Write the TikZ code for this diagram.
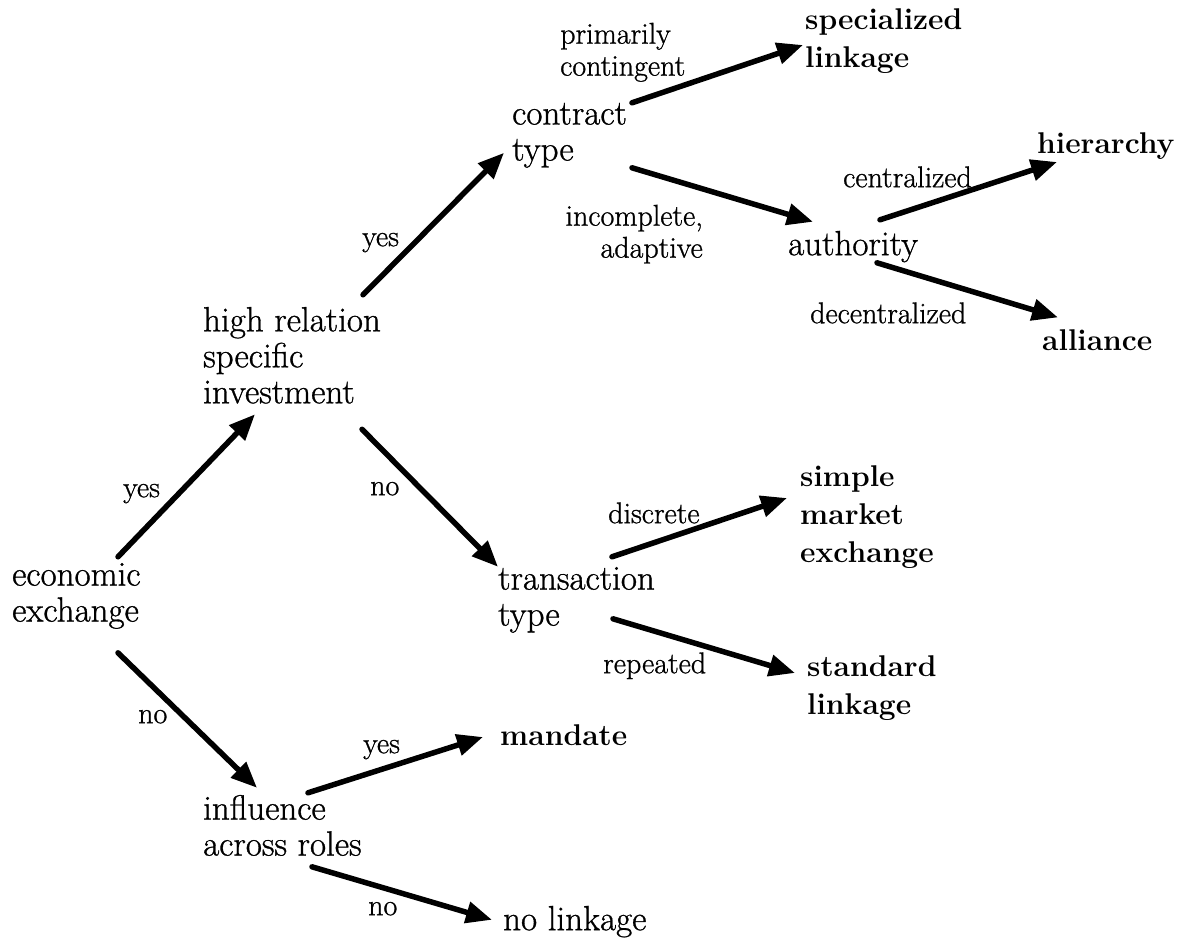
\documentclass[tikz,border=0pt]{standalone}
\usepackage{fontspec}
\newfontfamily\heavyrm{Latin Modern Roman}[FakeBold=0.9]
\usetikzlibrary{arrows.meta,calc}

\tikzset{
  % decision points of the tree
  decision/.style={font=\heavyrm\fontsize{35}{36}\selectfont, align=left,
    anchor=north west, inner sep=0pt, execute at begin node=\strut},
  % final governance forms
  outcome/.style={font=\fontsize{30}{38}\selectfont\bfseries, align=left,
    anchor=north west, inner sep=0pt, execute at begin node=\strut},
  % answers written along the branches
  answer/.style={font=\heavyrm\fontsize{30}{32}\selectfont, align=left,
    anchor=north west, inner sep=0pt, execute at begin node=\strut},
  branch/.style={line width=5.5pt, line cap=round,
    -{Triangle[length=26pt,width=21pt]}},
}

\begin{document}
\begin{tikzpicture}[x=1pt,y=-1pt]
\useasboundingbox (0,0) rectangle (1186,939);

% decision nodes
\node[decision] (econ)  at (12,562.8)  {economic\\exchange};
\node[decision] (hrsi)  at (203,306.8) {high relation\\specific\\investment};
\node[decision] (contr) at (512,102.8) {contract\\type};
\node[decision] (auth)  at (788,229.8) {authority};
\node[decision] (trans) at (498,566.8) {transaction\\type};
\node[decision] (infl)  at (203,794.8) {influence\\across roles};
\node[decision] (nolink) at (503,904.8) {no linkage};

% outcomes
\node[outcome] (spec)  at (805,8.4)    {specialized\\linkage};
\node[outcome] (hier)  at (1037,126.4) {hierarchy};
\node[outcome] (alli)  at (1042,323.4) {alliance};
\node[outcome] (simple) at (800,465.4) {simple\\market\\exchange};
\node[outcome] (stand) at (807,655.4)  {standard\\linkage};
\node[outcome] (mand)  at (500,718.4)  {mandate};

% branch answers
\node[answer] (lprim) at (560,22.6)  {primarily\\contingent};
\node[answer] (lcent) at (843,164.6) {centralized};
\node[answer, align=right, anchor=north east] (linc) at (703,204.6) {incomplete,\\adaptive};
\node[answer] (ldec)  at (810,300.6) {decentralized};
\node[answer] (lyes1) at (362,223.6) {yes};
\node[answer] (lyes2) at (123,474.6) {yes};
\node[answer] (lno1)  at (370,472.6) {no};
\node[answer] (ldisc) at (608,500.6) {discrete};
\node[answer] (lrep)  at (603,650.6) {repeated};
\node[answer] (lno2)  at (138,700.6) {no};
\node[answer] (lyes3) at (363,730.6) {yes};
\node[answer] (lno3)  at (368,892.6) {no};

% branches
\draw[branch] ($(econ.north west)+(106,-6)$) -- ($(hrsi.south west)+(52,0)$);
\draw[branch] ($(econ.north west)+(106,90)$) -- ($(infl.north west)+(54,-7)$);
\draw[branch] ($(hrsi.north west)+(160,-12)$) -- ($(contr.north west)+(-8,50)$);
\draw[branch] ($(hrsi.south west)+(159,15)$) -- (trans.north west);
\draw[branch] ($(contr.north west)+(120,0)$) -- ($(spec.north west)+(-2,36.6)$);
\draw[branch] ($(contr.north west)+(120,65)$) -- ($(auth.north west)+(25,-8)$);
\draw[branch] ($(auth.north west)+(92,-10)$) -- ($(hier.north west)+(20,35.6)$);
\draw[branch] ($(auth.north west)+(89,33)$) -- ($(alli.north west)+(16,-6)$);
\draw[branch] ($(trans.north west)+(114,-10)$) -- ($(simple.north west)+(-13,32.6)$);
\draw[branch] ($(trans.north west)+(115,52)$) -- ($(stand.north west)+(-12,17.6)$);
\draw[branch] ($(infl.north west)+(105,-2)$) -- ($(mand.north west)+(-17,18.6)$);
\draw[branch] ($(infl.north west)+(109,72)$) -- ($(nolink.north west)+(-11,15)$);
\end{tikzpicture}
\end{document}
